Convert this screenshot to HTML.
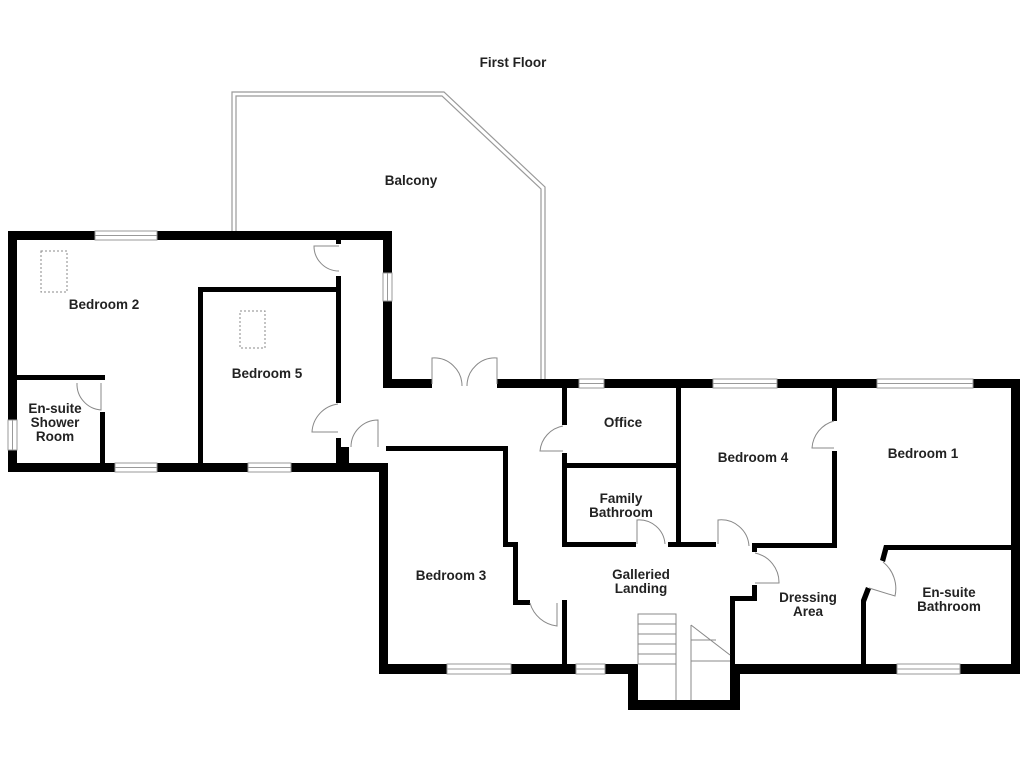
<!DOCTYPE html>
<html><head><style>body{margin:0;background:#fff}svg{display:block}text{font-family:"Liberation Sans",Arial,sans-serif;font-weight:bold;font-size:13.5px;fill:#222;text-anchor:middle}</style></head><body>
<svg width="1024" height="768" viewBox="0 0 1024 768" xmlns="http://www.w3.org/2000/svg">
<rect width="1024" height="768" fill="#fff"/>
<g fill="none" stroke="#999" stroke-width="1.2">
<polyline points="232,231 232,92 444,92 545,187 545,380"/>
<polyline points="236,231 236,96 442,96 541,189 541,380"/>
</g>
<g fill="#000">
<rect x="8" y="231" width="384" height="9"/>
<rect x="8" y="231" width="9" height="241"/>
<rect x="8" y="463" width="380" height="9"/>
<rect x="383" y="231" width="9" height="157"/>
<rect x="383" y="379" width="49" height="9"/>
<rect x="497" y="379" width="523" height="9"/>
<rect x="1011" y="379" width="9" height="295"/>
<rect x="379" y="463" width="9" height="211"/>
<rect x="379" y="664" width="259" height="10"/>
<rect x="730" y="664" width="290" height="10"/>
<rect x="628" y="664" width="10" height="46"/>
<rect x="730" y="664" width="10" height="46"/>
<rect x="628" y="700" width="112" height="10"/>
<rect x="386" y="446" width="121" height="5"/>
<rect x="503" y="446" width="5" height="100"/>
<rect x="503" y="542" width="15" height="5"/>
<rect x="513" y="542" width="5" height="63"/>
<rect x="513" y="600" width="17" height="5"/>
<rect x="562" y="600" width="5" height="66"/>
<rect x="562" y="388" width="5" height="37"/>
<rect x="562" y="453" width="5" height="94"/>
<rect x="562" y="463" width="117" height="5"/>
<rect x="562" y="542" width="74" height="5"/>
<rect x="668" y="542" width="48" height="5"/>
<rect x="676" y="388" width="5" height="158"/>
<rect x="752" y="543" width="85" height="5"/>
<rect x="832" y="388" width="5" height="33"/>
<rect x="832" y="451" width="5" height="96"/>
<rect x="752" y="543" width="5" height="9"/>
<rect x="752" y="585" width="5" height="15"/>
<rect x="730" y="596" width="27" height="5"/>
<rect x="730" y="596" width="5" height="70"/>
<rect x="884" y="545" width="127" height="5"/>
<polygon points="884,545 889,547 885,562 880,560"/>
<polygon points="866,587 871,589 866,602 866,666 861,666 861,600"/>
<rect x="198" y="287" width="143" height="5"/>
<rect x="198" y="287" width="5" height="178"/>
<rect x="336" y="276" width="5" height="127"/>
<rect x="336" y="438" width="5" height="27"/>
<rect x="336" y="240" width="5" height="4"/>
<rect x="17" y="375" width="88" height="5"/>
<rect x="100" y="412" width="5" height="53"/>
<rect x="341" y="447" width="8" height="18"/>
</g>
<g fill="#fff" stroke="#999" stroke-width="1">
<rect x="95" y="231" width="62" height="9"/>
<rect x="115" y="463" width="42" height="9"/>
<rect x="248" y="463" width="43" height="9"/>
<rect x="8" y="420" width="9" height="30"/>
<rect x="383" y="273" width="9" height="28"/>
<rect x="579" y="379" width="25" height="9"/>
<rect x="713" y="379" width="64" height="9"/>
<rect x="877" y="379" width="96" height="9"/>
<rect x="447" y="664" width="64" height="10"/>
<rect x="576" y="664" width="29" height="10"/>
<rect x="897" y="664" width="63" height="10"/>
</g>
<g stroke="#999" stroke-width="1">
<line x1="95" y1="235.5" x2="157" y2="235.5"/><line x1="115" y1="467.5" x2="157" y2="467.5"/><line x1="248" y1="467.5" x2="291" y2="467.5"/>
<line x1="12.5" y1="420" x2="12.5" y2="450"/><line x1="387.5" y1="273" x2="387.5" y2="301"/>
<line x1="579" y1="383.5" x2="604" y2="383.5"/><line x1="713" y1="383.5" x2="777" y2="383.5"/><line x1="877" y1="383.5" x2="973" y2="383.5"/>
<line x1="447" y1="669" x2="511" y2="669"/><line x1="576" y1="669" x2="605" y2="669"/><line x1="897" y1="669" x2="960" y2="669"/>
</g>
<g fill="none" stroke="#888" stroke-dasharray="2,2">
<rect x="41" y="251" width="26" height="41"/>
<rect x="240" y="311" width="25" height="37"/>
</g>
<g fill="none" stroke="#888" stroke-width="1">
<path d="M339,246 L314,246 A25,25 0 0 0 339,271"/>
<path d="M338,404 A30,30 0 0 0 312,432 L338,432"/>
<path d="M378,447 L378,420 A27,27 0 0 0 351,447"/>
<path d="M77,383 A26,26 0 0 0 101,410 L101,383"/>
<path d="M432,384 L432,358 A28,28 0 0 1 462,386"/>
<path d="M497,384 L497,358 A28,28 0 0 0 467,386"/>
<path d="M563,426 A28,28 0 0 0 540,451 L563,451"/>
<path d="M530,603 A32,32 0 0 0 557,626 L557,603"/>
<path d="M637,544 L637,520 A26,26 0 0 1 665,544"/>
<path d="M718,544 L718,520 A28,28 0 0 1 749,546"/>
<path d="M755,553 A30,30 0 0 1 779,583 L755,583"/>
<path d="M834,421 A30,30 0 0 0 812,448 L834,448"/>
<path d="M883,562 A34,34 0 0 1 895,596 L869,588"/>
</g>
<g fill="none" stroke="#888" stroke-width="1">
<rect x="638" y="614" width="38" height="50"/>
<line x1="638" y1="624" x2="676" y2="624"/><line x1="638" y1="634" x2="676" y2="634"/><line x1="638" y1="644" x2="676" y2="644"/><line x1="638" y1="654" x2="676" y2="654"/>
<line x1="676" y1="664" x2="676" y2="700"/><line x1="691" y1="625" x2="691" y2="700"/><line x1="691" y1="661" x2="730" y2="661"/>
<polyline points="691,625 730,655"/><line x1="691" y1="640" x2="716" y2="640"/>
</g>
<text x="513" y="67" font-size="14">First Floor</text>
<text x="411" y="185">Balcony</text>
<text x="104" y="309">Bedroom 2</text>
<text x="267" y="378">Bedroom 5</text>
<text x="55" y="413">En-suite</text><text x="55" y="427">Shower</text><text x="55" y="441">Room</text>
<text x="623" y="427">Office</text>
<text x="621" y="503">Family</text><text x="621" y="517">Bathroom</text>
<text x="753" y="462">Bedroom 4</text>
<text x="923" y="458">Bedroom 1</text>
<text x="451" y="580">Bedroom 3</text>
<text x="641" y="579">Galleried</text><text x="641" y="593">Landing</text>
<text x="808" y="602">Dressing</text><text x="808" y="616">Area</text>
<text x="949" y="597">En-suite</text><text x="949" y="611">Bathroom</text>
</svg>
</body></html>
